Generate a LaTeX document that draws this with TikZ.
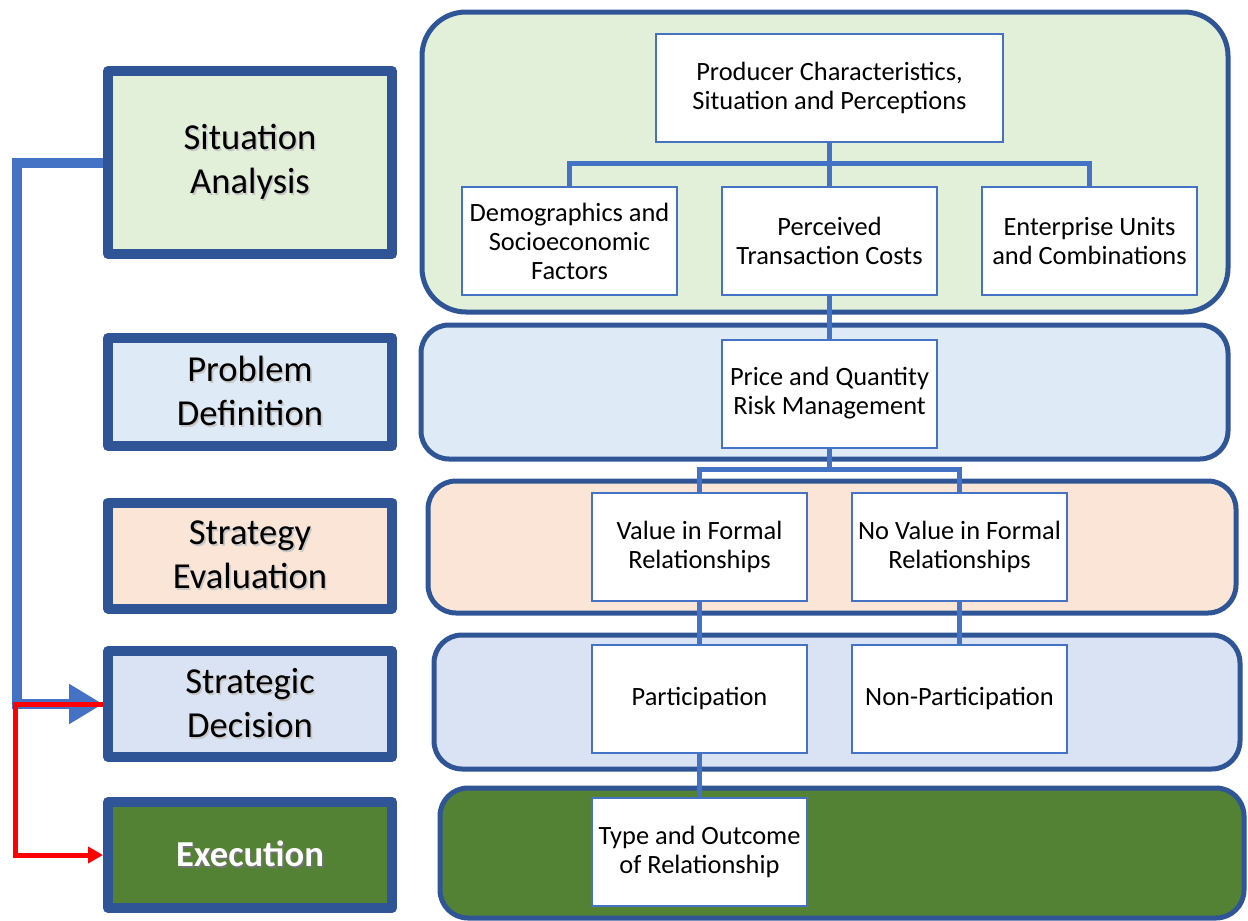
\documentclass[tikz,border=0pt]{standalone}
\usepackage{fontspec}
\setmainfont{Carlito}
\usetikzlibrary{arrows.meta}

\definecolor{frame}{HTML}{2F5597}
\definecolor{linkblue}{HTML}{4472C4}
\definecolor{sitfill}{HTML}{E2F0D9}
\definecolor{probfill}{HTML}{DEEBF7}
\definecolor{evalfill}{HTML}{FBE5D6}
\definecolor{decfill}{HTML}{DAE3F3}
\definecolor{exefill}{HTML}{548235}

% text with a soft drop shadow
\newcommand{\shadowed}[2][black!22]{\leavevmode\rlap{\kern0.8pt\raisebox{-0.8pt}{\textcolor{#1}{#2}}}#2}

\begin{document}
\begin{tikzpicture}[x=0.5pt, y=-0.5pt,
    stage/.style={draw=frame, line width=5pt, line join=round, minimum width=142pt,
      minimum height=53pt, inner sep=0pt, align=center, font=\fontsize{18.3}{22}\selectfont},
    panel/.style={draw=frame, line width=2.5pt, rounded corners=14pt},
    item/.style={draw=linkblue, line width=1pt, fill=white, minimum width=107.5pt,
      minimum height=54pt, inner sep=0pt, align=center, font=\fontsize{13.2}{14.5}\selectfont},
    link/.style={draw=linkblue, line width=2.5pt}]
    \useasboundingbox (0,0) rectangle (1248,921);

    % background bands
    \draw[panel, fill=sitfill, rounded corners=22pt] (422,12) rectangle (1228,312);
    \draw[panel, fill=probfill] (421,325) rectangle (1228,459);
    \draw[panel, fill=evalfill] (428,481) rectangle (1236,613);
    \draw[panel, fill=decfill] (434,635) rectangle (1240,769);
    \draw[panel, fill=exefill] (440,788) rectangle (1244,918);

    % stages on the left
    \node[stage, fill=sitfill, minimum height=91.5pt] (sit) at (250,162.5) {\shadowed{Situation}\\\shadowed{Analysis}};
    \node[stage, fill=probfill, minimum height=54pt] (prob) at (250,392) {\shadowed{Problem}\\\shadowed{Definition}};
    \node[stage, fill=evalfill] (eval) at (250,555.5) {\shadowed{Strategy}\\\shadowed{Evaluation}};
    \node[stage, fill=decfill] (dec) at (250,704) {\shadowed{Strategic}\\\shadowed{Decision}};
    \node[stage, fill=exefill, text=white] (exe) at (250,855) {\shadowed[black!55]{\bfseries Execution}};

    % fork points
    \coordinate (f1) at (829.5,163);
    \coordinate (f2) at (829.5,469);

    % tree of factors
    \node[item, minimum width=173.5pt] (prod) at (829.5,88) {Producer Characteristics,\\Situation and Perceptions};
    \draw[link] (prod.south) -- (f1);
    \draw[link] (569.5,241) |- (f1) -| (1089.5,241);
    \draw[link] (f1) -- (829.5,241);
    \draw[link] (829.5,241) -- (829.5,393.5);

    \node[item] (demo) at (569.5,241) {Demographics and\\Socioeconomic\\Factors};
    \node[item] (perc) at (829.5,241) {Perceived\\Transaction Costs};
    \node[item] (ent) at (1089.5,241) {Enterprise Units\\and Combinations};
    \node[item] (price) at (829.5,393.5) {Price and Quantity\\Risk Management};

    \draw[link] (price.south) -- (f2);
    \draw[link] (699.5,546.5) |- (f2) -| (959.5,546.5);
    \draw[link] (699.5,546.5) -- (699.5,851.5);
    \draw[link] (959.5,546.5) -- (959.5,698.5);

    \node[item] (val) at (699.5,546.5) {Value in Formal\\Relationships};
    \node[item] (noval) at (959.5,546.5) {No Value in Formal\\Relationships};
    \node[item] (part) at (699.5,698.5) {Participation};
    \node[item] (nonpart) at (959.5,698.5) {Non-Participation};
    \node[item] (type) at (699.5,851.5) {Type and Outcome\\of Relationship};

    % feedback loops
    \draw[linkblue, line width=5pt, -{Triangle[length=17pt,width=19pt]}] (sit.west) -- (17,162.5) |- (dec.west);
    \draw[red, line width=2.5pt, -{Triangle[length=7.5pt,width=8pt]}] (dec.west) -- (15.5,704) |- (exe.west);
\end{tikzpicture}
\end{document}
